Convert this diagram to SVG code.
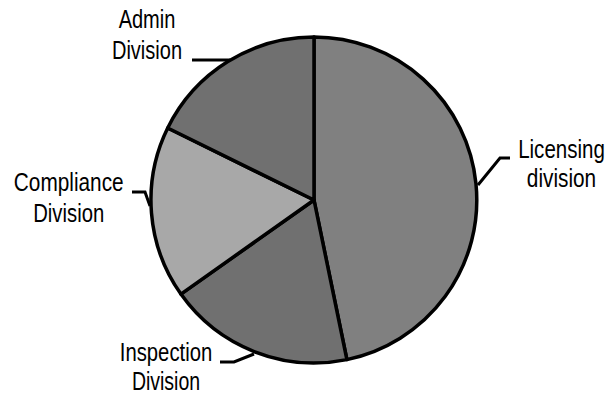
<svg xmlns="http://www.w3.org/2000/svg" width="616" height="395" viewBox="0 0 616 395">
<style>
.slice{stroke:#000;stroke-width:3.5;stroke-linejoin:round}
.lead{fill:none;stroke:#000;stroke-width:3}
text{font-family:"Liberation Sans",Arial,sans-serif;font-size:26px;fill:#000;text-anchor:middle}
</style>
<rect width="616" height="395" fill="#fff"/>
<g id="licensing">
<path class="slice" fill="#808080" d="M314,200 L314,37 A163,163 0 0 1 346.9,359.6 Z"/>
<text transform="translate(561.5,158) scale(0.79,1)">Licensing</text>
<text transform="translate(561.5,187) scale(0.8,1)">division</text>
</g>
<g id="inspection">
<path class="slice" fill="#707070" d="M314,200 L346.9,359.6 A163,163 0 0 1 180.9,294.1 Z"/>
<text transform="translate(166,361) scale(0.78,1)">Inspection</text>
<text transform="translate(166,390) scale(0.75,1)">Division</text>
</g>
<g id="compliance">
<path class="slice" fill="#a8a8a8" d="M314,200 L180.9,294.1 A163,163 0 0 1 167.7,128 Z"/>
<text transform="translate(68.7,191) scale(0.8,1)">Compliance</text>
<text transform="translate(68.7,222) scale(0.78,1)">Division</text>
</g>
<g id="admin">
<path class="slice" fill="#707070" d="M314,200 L167.7,128 A163,163 0 0 1 314,37 Z"/>
<text transform="translate(147,28) scale(0.77,1)">Admin</text>
<text transform="translate(147,59) scale(0.77,1)">Division</text>
</g>
<g id="connectors">
<path class="lead" d="M192,60 L230,60"/>
<path class="lead" d="M510,158 L500,158 L478,185"/>
<path class="lead" d="M132,192 L145,192 L150,206"/>
<path class="lead" d="M220,362 L234,362 L254,354"/>
</g>
</svg>
